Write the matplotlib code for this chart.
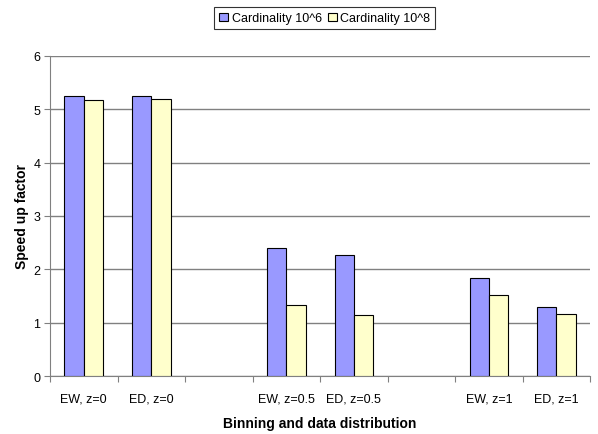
import matplotlib
matplotlib.use("Agg")
import matplotlib.pyplot as plt
import numpy as np

plt.rcParams['font.family'] = ['Liberation Sans', 'DejaVu Sans']

categories = ["EW, z=0", "ED, z=0", "", "EW, z=0.5", "ED, z=0.5", "", "EW, z=1", "ED, z=1"]
card_1e6 = [5.25, 5.25, np.nan, 2.40, 2.27, np.nan, 1.83, 1.30]
card_1e8 = [5.17, 5.19, np.nan, 1.33, 1.15, np.nan, 1.52, 1.17]
series_names = ["Cardinality 10^6", "Cardinality 10^8"]

fig = plt.figure(figsize=(5.98, 4.35), dpi=100)
ax = fig.add_axes([0.0836, 0.1333, 0.9034, 0.7357])

x = np.arange(len(categories))
w = 1 / 3.5  # gap width 150%
b1 = ax.bar(x - w / 2, card_1e6, w, color='#9999FF', edgecolor='black', linewidth=0.8,
            label=series_names[0], zorder=3)
b2 = ax.bar(x + w / 2, card_1e8, w, color='#FFFFCC', edgecolor='black', linewidth=0.8,
            label=series_names[1], zorder=3)

ax.set_xlim(-0.5, len(categories) - 0.5)
ax.set_ylim(0, 6)
ax.set_yticks(range(0, 7))
ax.yaxis.grid(True, color='#808080', linewidth=1, zorder=0)

# category labels sit between the boundary ticks
ax.set_xticks(np.arange(-0.5, len(categories)), minor=False)
ax.set_xticklabels([])
ax.set_xticks(x, minor=True)
ax.set_xticklabels(categories, minor=True)
ax.tick_params(axis='x', which='minor', length=0, pad=12, labelsize=9)
ax.tick_params(axis='x', which='major', length=4, color='#808080')
ax.tick_params(axis='y', length=4, color='#808080', labelsize=9, pad=3)

for s in ['top', 'right']:
    ax.spines[s].set_visible(False)
for s in ['left', 'bottom']:
    ax.spines[s].set_color('#808080')

ax.set_ylabel("Speed up factor", fontsize=10, fontweight='bold', labelpad=3)
ax.set_xlabel("Binning and data distribution", fontsize=10, fontweight='bold', labelpad=8)

leg = fig.legend(handles=[b1, b2], loc='upper center', bbox_to_anchor=(0.543, 0.995), ncol=2,
                 fontsize=9, frameon=True, fancybox=False, edgecolor='black',
                 handlelength=0.7, handleheight=0.7, handletextpad=0.3, columnspacing=0.5,
                 borderpad=0.4)
leg.get_frame().set_linewidth(0.8)

fig.savefig("out.png", dpi=100)
